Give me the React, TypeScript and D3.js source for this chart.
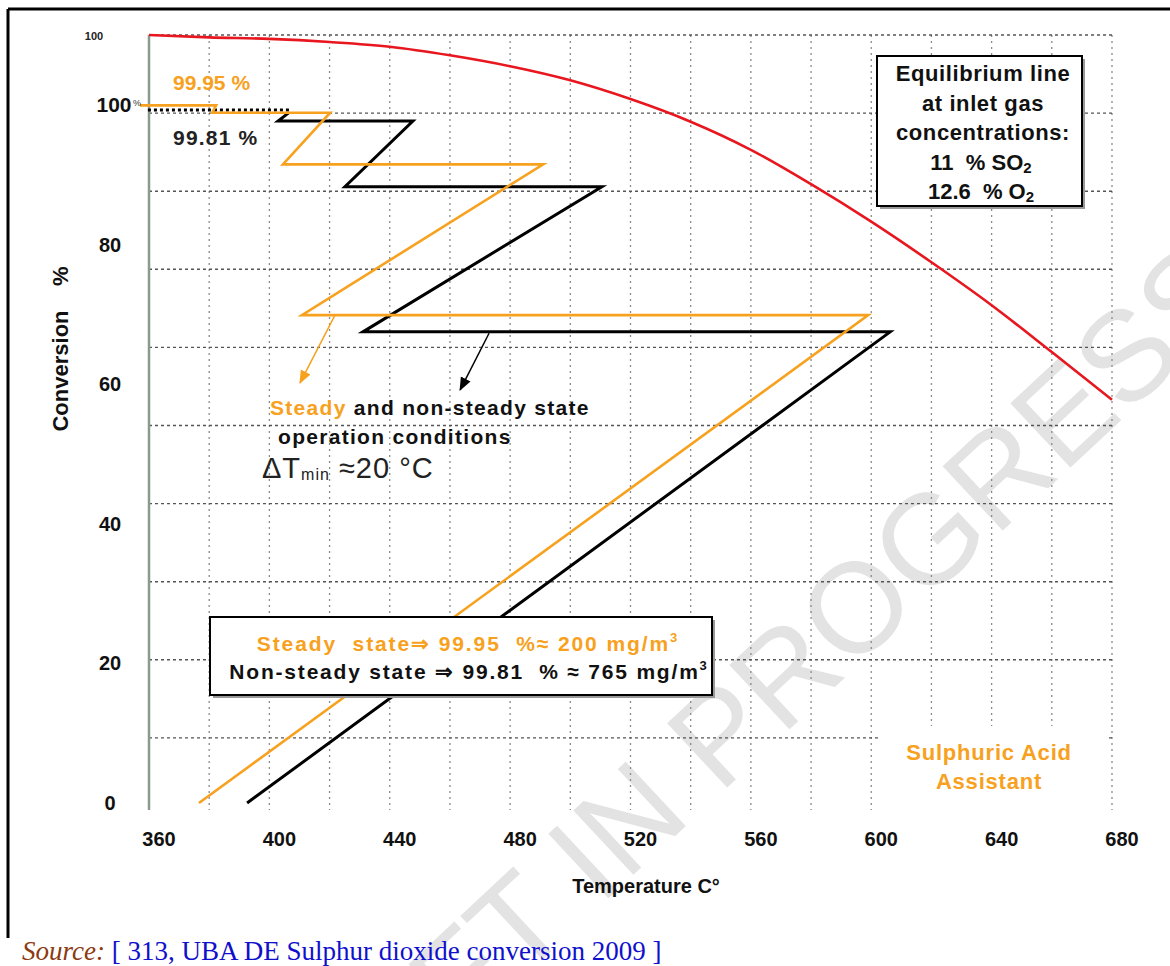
import React from 'react';
import * as d3 from 'd3';

// ---- data ----
const xTickLabels = [360, 400, 440, 480, 520, 560, 600, 640, 680];
const xGridTemps = [360, 380, 400, 420, 440, 460, 480, 500, 520, 540, 560, 580, 600, 620, 640, 660, 680];
const yTickLabels = [0, 20, 40, 60, 80, 100];
const eqGridLevels = [10, 20, 30, 40, 50, 60, 70, 80, 90, 100];

const equilibriumTemps = [360, 380, 400, 420, 440, 460, 480, 500, 520, 540, 560, 580, 600, 620, 640, 660, 680];
const equilibriumConv = [100, 99.7, 99.5, 99.1, 98.5, 97.4, 96.0, 94.2, 91.8, 88.9, 85.3, 80.9, 76.1, 70.9, 65.4, 59.4, 53.3];

const steadyTemps = [376.6, 599, 410.8, 491, 404.5, 420.2, 381, 382.3, 357];
const steadyConv = [0, 69.9, 69.9, 91.5, 91.5, 98.9, 98.9, 99.95, 99.95];

const nonSteadyTemps = [392.6, 606.3, 431.1, 510.5, 425.1, 447.7, 402.9, 406.5];
const nonSteadyConv = [0, 67.5, 67.5, 88.3, 88.3, 97.7, 97.7, 98.9];
const nonSteadyFinalTemps = [406.5, 359];
const nonSteadyFinalConv = [99.3, 99.3];

const ORANGE = '#F7A11E';
const FONT = '"Liberation Sans", Arial, sans-serif';

export default function App() {
  const x = d3.scaleLinear().domain([360, 680]).range([149, 1112]);
  const yConv = d3.scaleLinear().domain([0, 100]).range([803, 105]);
  const yEq = d3.scaleLinear().domain([0, 100]).range([816, 35]);

  const lineConv = (ts: number[], cs: number[]) =>
    d3.line<number>().x((_, i) => x(ts[i])).y((_, i) => yConv(cs[i]))(ts) || '';
  const eqLine = d3.line<number>()
    .x((_, i) => x(equilibriumTemps[i]))
    .y((_, i) => yEq(equilibriumConv[i]))
    .curve(d3.curveMonotoneX)(equilibriumTemps) || '';

  const plotTop = yEq(100);
  const plotBottom = 810;
  const pre = { whiteSpace: 'pre' as const };

  return (
    <svg width={1170} height={966} style={{ position: 'absolute', left: 0, top: 0, background: '#fff' }}
      fontFamily={FONT}>
      <defs>
        <marker id="arrO" viewBox="0 0 10 10" refX="9" refY="5" markerWidth="9" markerHeight="9" orient="auto">
          <path d="M0,1 L10,5 L0,9 Z" fill={ORANGE} />
        </marker>
        <marker id="arrK" viewBox="0 0 10 10" refX="9" refY="5" markerWidth="9" markerHeight="9" orient="auto">
          <path d="M0,1 L10,5 L0,9 Z" fill="#000" />
        </marker>
      </defs>
      <rect width={1170} height={966} fill="#fff" />

      {/* watermark */}
      <text transform="translate(1250,300) rotate(-43)" textAnchor="end" fontSize={128}
        fill="#e3e3e3" fontFamily={FONT}>DRAFT IN PROGRESS</text>

      {/* frame */}
      <line x1={8} y1={9} x2={1170} y2={9} stroke="#000" strokeWidth={3} />
      <line x1={8} y1={9} x2={8} y2={938} stroke="#000" strokeWidth={3} />

      {/* grid */}
      {xGridTemps.slice(1).map(t => (
        <line key={'v' + t} x1={x(t)} x2={x(t)} y1={plotTop} y2={plotBottom}
          stroke="#8a8a8a" strokeWidth={1.3} strokeDasharray="2 4" />
      ))}
      {eqGridLevels.map(v => (
        <line key={'h' + v} x1={x(360)} x2={x(680)} y1={yEq(v)} y2={yEq(v)}
          stroke="#555" strokeWidth={1.4} strokeDasharray="3 3" />
      ))}
      <line x1={x(360)} x2={x(360)} y1={plotTop} y2={plotBottom} stroke="#8c9a8c" strokeWidth={2.5} />

      {/* cleared area for brand text */}
      <rect x={880} y={726} width={228} height={88} fill="#fff" />

      {/* equilibrium line */}
      <path d={eqLine} fill="none" stroke="#E8161E" strokeWidth={2.6} />

      {/* operating lines */}
      <path d={lineConv(nonSteadyTemps, nonSteadyConv)} fill="none" stroke="#000" strokeWidth={3} strokeLinejoin="miter" />
      <path d={lineConv(nonSteadyFinalTemps, nonSteadyFinalConv)} fill="none" stroke="#000" strokeWidth={3} strokeDasharray="3 3" />
      <path d={lineConv(steadyTemps, steadyConv)} fill="none" stroke={ORANGE} strokeWidth={2.6} strokeLinejoin="miter" />

      {/* arrows */}
      <line x1={x(421.8)} y1={yConv(69.9)} x2={x(410.2)} y2={yConv(60.2)} stroke={ORANGE} strokeWidth={1.5} markerEnd="url(#arrO)" />
      <line x1={x(473)} y1={yConv(67.3)} x2={x(463.4)} y2={yConv(59.2)} stroke="#000" strokeWidth={1.5} markerEnd="url(#arrK)" />

      {/* y axis labels */}
      {yTickLabels.slice(0, 5).map(v => (
        <text key={'yl' + v} x={110} y={yConv(v) + 7} textAnchor="middle" fontSize={20} fontWeight="bold" fill="#111">{v}</text>
      ))}
      <text x={114} y={yConv(100) + 7} textAnchor="middle" fontSize={21} fontWeight="bold" fill="#111">{yTickLabels[5]}</text>
      <text x={133} y={yConv(100) + 1} fontSize={9} fill="#333">%</text>
      <text x={94} y={yEq(100) + 5} textAnchor="middle" fontSize={11} fontWeight="bold" fill="#222">100</text>
      <text transform="translate(68,349) rotate(-90)" textAnchor="middle" fontSize={22} fontWeight="bold" fill="#111"
        style={pre} xmlSpace="preserve">Conversion    %</text>

      {/* x axis labels */}
      {xTickLabels.map(v => (
        <text key={'xl' + v} x={x(v) + 10} y={846} textAnchor="middle" fontSize={20} fontWeight="bold" fill="#111">{v}</text>
      ))}
      <text x={646} y={893} textAnchor="middle" fontSize={20} fontWeight="bold" fill="#111">Temperature C°</text>

      {/* small labels */}
      <text x={173} y={90} fontSize={21} fontWeight="bold" fill={ORANGE} style={pre}>99.95 %</text>
      <text x={173} y={145} fontSize={21} fontWeight="bold" fill="#222" letterSpacing={1.2} style={pre}>99.81 %</text>

      {/* center annotation */}
      <text x={270} y={415} fontSize={21} fontWeight="bold" fill="#111" letterSpacing={1.3}>
        <tspan fill={ORANGE}>Steady</tspan> and non-steady state
      </text>
      <text x={278} y={444} fontSize={21} fontWeight="bold" fill="#111" letterSpacing={1.3}>operation conditions</text>
      <text x={262} y={478} fontSize={29} fill="#222" letterSpacing={1}>
        ΔT<tspan fontSize={16} dy={2}>min</tspan><tspan dy={-2}> ≈20 °C</tspan>
      </text>

      {/* equilibrium legend box */}
      <rect x={880} y={59} width={205} height={150} fill="#999" />
      <rect x={877} y={56} width={205} height={150} fill="#fff" stroke="#000" strokeWidth={2} />
      {['Equilibrium line', 'at inlet gas', 'concentrations:'].map((s, i) => (
        <text key={s} x={983} y={81 + i * 29.5} textAnchor="middle" fontSize={22} fontWeight="bold" fill="#111" letterSpacing={0.6}>{s}</text>
      ))}
      <text x={981} y={170} textAnchor="middle" fontSize={22} fontWeight="bold" fill="#111" style={pre}>
        11  % SO<tspan fontSize={15} dy={3}>2</tspan>
      </text>
      <text x={981} y={199} textAnchor="middle" fontSize={22} fontWeight="bold" fill="#111" style={pre}>
        12.6  % O<tspan fontSize={15} dy={3}>2</tspan>
      </text>

      {/* bottom box */}
      <rect x={213} y={620} width={502} height={78} fill="#999" />
      <rect x={210} y={617} width={502} height={78} fill="#fff" stroke="#000" strokeWidth={2} />
      <text x={468} y={651} textAnchor="middle" fontSize={21} fontWeight="bold" fill={ORANGE} letterSpacing={1.9} style={pre}>
        Steady  state⇒ 99.95  %≈ 200 mg/m<tspan fontSize={13} dy={-9}>3</tspan>
      </text>
      <text x={469} y={679} textAnchor="middle" fontSize={21} fontWeight="bold" fill="#111" letterSpacing={1.8} style={pre}>
        Non-steady state ⇒ 99.81  % ≈ 765 mg/m<tspan fontSize={13} dy={-9}>3</tspan>
      </text>

      {/* brand */}
      <text x={989} y={760} textAnchor="middle" fontSize={22} fontWeight="bold" fill={ORANGE} letterSpacing={0.8}>Sulphuric Acid</text>
      <text x={989} y={789} textAnchor="middle" fontSize={22} fontWeight="bold" fill={ORANGE} letterSpacing={0.8}>Assistant</text>

      {/* source */}
      <text x={22} y={960} fontSize={27} fontFamily='"Liberation Serif", "Times New Roman", serif'>
        <tspan fill="#8B3A12" fontStyle="italic">Source:</tspan>
        <tspan fill="#1010CC"> [ 313, UBA DE Sulphur dioxide conversion 2009 ]</tspan>
      </text>
    </svg>
  );
}
